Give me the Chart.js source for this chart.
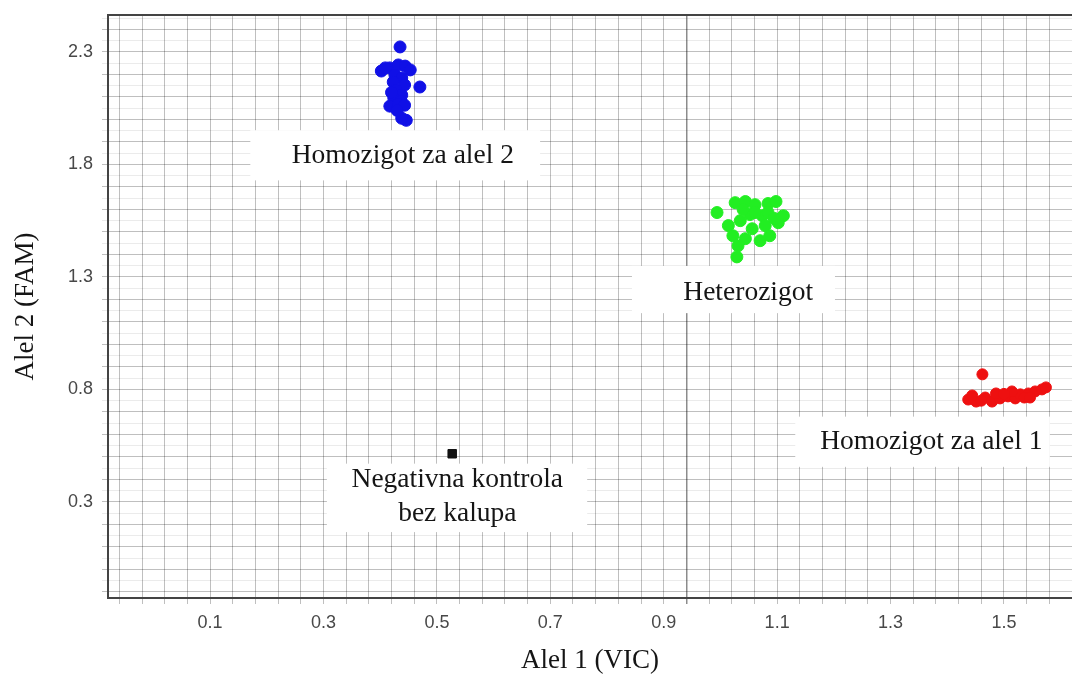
<!DOCTYPE html>
<html>
<head>
<meta charset="utf-8">
<script src="https://cdn.jsdelivr.net/npm/chart.js@4.4.1/dist/chart.umd.min.js"></script>
<style>
  html, body { margin: 0; padding: 0; background: #fff; }
  #wrap { width: 1072px; height: 679px; }
</style>
</head>
<body>
<div id="wrap"><canvas id="c" width="1072" height="679"></canvas></div>
<script>
// ---- data ----
const xTickLabels = [0.1, 0.3, 0.5, 0.7, 0.9, 1.1, 1.3, 1.5];
const yTickLabels = [0.3, 0.8, 1.3, 1.8, 2.3];

const homozygote2X = [0.435,0.402,0.417,0.432,0.444,0.453,0.426,0.438,0.423,0.443,0.470,0.428,0.438,0.424,0.437,0.417,0.432,0.443,0.446,0.438,0.409,0.420,0.430];
const homozygote2Y = [2.322,2.215,2.229,2.242,2.237,2.220,2.197,2.184,2.166,2.153,2.144,2.130,2.108,2.095,2.081,2.059,2.068,2.063,1.996,2.005,2.229,2.120,2.040];

const heterozygoteX = [0.994,1.029,1.026,1.044,1.061,1.084,1.098,1.111,1.052,1.074,1.035,1.014,1.056,1.079,1.102,1.022,1.044,1.070,1.087,1.031,1.061,1.084,1.040,1.095];
const heterozygoteY = [1.586,1.389,1.630,1.635,1.621,1.626,1.635,1.572,1.577,1.572,1.550,1.528,1.514,1.528,1.541,1.483,1.470,1.461,1.483,1.438,1.586,1.586,1.600,1.560];

const homozygote1X = [1.462,1.437,1.451,1.467,1.479,1.493,1.507,1.520,1.529,1.543,1.555,1.567,1.574,1.514,1.536,1.444,1.486,1.546,1.500,1.460];
const homozygote1Y = [0.867,0.755,0.746,0.764,0.746,0.760,0.769,0.760,0.778,0.782,0.791,0.800,0.809,0.791,0.764,0.773,0.782,0.764,0.780,0.750];

const controlX = [0.527];
const controlY = [0.514];

const clusterLabels = [
  { lines: ["Homozigot za alel 2"], x: 0.440, y: 1.840, box: [0.171, 1.952, 0.682, 1.729] },
  { lines: ["Heterozigot"], x: 1.049, y: 1.229, box: [0.844, 1.349, 1.202, 1.139] },
  { lines: ["Homozigot za alel 1"], x: 1.372, y: 0.568, box: [1.132, 0.679, 1.581, 0.456] },
  { lines: ["Negativna kontrola", "bez kalupa"], x: 0.536, y: 0.322, box: [0.306, 0.470, 0.765, 0.166] }
];

function pts(xs, ys) { return xs.map((x, i) => ({ x: x, y: ys[i] })); }

// grid values
const xGrid = [];
for (let k = -4; k <= 38; k++) xGrid.push(Math.round((0.1 + 0.04 * k) * 1000) / 1000);
const yGrid = [];
for (let k = -8; k <= 43; k++) yGrid.push(Math.round((0.3 + 0.05 * k) * 1000) / 1000);

function isLabel(list, v) { return list.some(t => Math.abs(t - v) < 1e-6); }

const labelPlugin = {
  id: 'clusterLabels',
  afterDatasetsDraw(chart) {
    const ctx = chart.ctx, xs = chart.scales.x, ys = chart.scales.y, a = chart.chartArea;
    ctx.save();
    ctx.strokeStyle = '#444';
    ctx.lineWidth = 2;
    ctx.beginPath();
    ctx.moveTo(a.left, a.top);
    ctx.lineTo(a.right, a.top);
    ctx.stroke();
    clusterLabels.forEach(l => {
      const x1 = xs.getPixelForValue(l.box[0]), y1 = ys.getPixelForValue(l.box[1]);
      const x2 = xs.getPixelForValue(l.box[2]), y2 = ys.getPixelForValue(l.box[3]);
      ctx.fillStyle = '#ffffff';
      ctx.fillRect(x1, y1, x2 - x1, y2 - y1);
      ctx.fillStyle = '#151515';
      ctx.font = '27.5px "Liberation Serif", "Times New Roman", serif';
      ctx.textAlign = 'center';
      ctx.textBaseline = 'middle';
      const cx = xs.getPixelForValue(l.x), cy = ys.getPixelForValue(l.y);
      const lh = 34;
      const n = l.lines.length;
      l.lines.forEach((t, i) => {
        ctx.fillText(t, cx, cy + (i - (n - 1) / 2) * lh);
      });
    });
    ctx.restore();
  }
};

new Chart(document.getElementById('c'), {
  type: 'scatter',
  data: {
    datasets: [
      { label: 'Homozigot za alel 2', data: pts(homozygote2X, homozygote2Y), backgroundColor: '#1010e6', borderColor: '#1010e6', pointRadius: 6, pointHoverRadius: 6 },
      { label: 'Heterozigot', data: pts(heterozygoteX, heterozygoteY), backgroundColor: '#22ee22', borderColor: '#22ee22', pointRadius: 6, pointHoverRadius: 6 },
      { label: 'Homozigot za alel 1', data: pts(homozygote1X, homozygote1Y), backgroundColor: '#ee1010', borderColor: '#ee1010', pointRadius: 5.5, pointHoverRadius: 5.5 },
      { label: 'Negativna kontrola bez kalupa', data: pts(controlX, controlY), backgroundColor: '#111', borderColor: '#111', pointStyle: 'rect', pointRadius: 6, pointHoverRadius: 6 }
    ]
  },
  options: {
    responsive: false,
    animation: false,
    layout: { autoPadding: false, padding: { left: 0, right: 0, top: 15, bottom: 0 } },
    plugins: { legend: { display: false }, tooltip: { enabled: false } },
    scales: {
      x: {
        type: 'linear', min: -0.08, max: 1.62,
        afterBuildTicks(s) { s.ticks = xGrid.map(v => ({ value: v })); },
        afterFit(s) { s.height = 81; s.paddingRight = 0; s.paddingLeft = 0; },
        ticks: {
          autoSkip: false, maxRotation: 0, padding: 8,
          color: '#484848',
          font: { family: '"Liberation Sans", Arial, sans-serif', size: 18 },
          callback: v => isLabel(xTickLabels, v) ? v.toFixed(1) : ''
        },
        grid: {
          color: c => Math.abs(c.tick.value - 0.94) < 1e-6 ? 'rgba(0,0,0,0.45)' : 'rgba(0,0,0,0.25)',
          lineWidth: c => Math.abs(c.tick.value - 0.94) < 1e-6 ? 1.5 : 1,
          tickLength: 6, drawTicks: true
        },
        border: { display: true, color: '#444', width: 2 },
        title: {
          display: true, text: 'Alel 1 (VIC)', color: '#151515',
          font: { family: '"Liberation Serif", "Times New Roman", serif', size: 27 },
          padding: { top: 0, bottom: 2 }
        }
      },
      y: {
        type: 'linear', min: -0.127, max: 2.464,
        afterBuildTicks(s) { s.ticks = yGrid.map(v => ({ value: v })); },
        afterFit(s) { s.width = 108; s.paddingTop = 0; s.paddingBottom = 0; },
        ticks: {
          autoSkip: false, padding: 9,
          color: '#484848',
          font: { family: '"Liberation Sans", Arial, sans-serif', size: 18 },
          callback: v => isLabel(yTickLabels, v) ? v.toFixed(1) : ''
        },
        grid: {
          color: c => (Math.round(c.tick.value * 100) % 10 === 0) ? 'rgba(0,0,0,0.25)' : 'rgba(0,0,0,0.08)',
          tickLength: 6, drawTicks: true
        },
        border: { display: true, color: '#444', width: 2 },
        title: {
          display: true, text: 'Alel 2 (FAM)', color: '#151515',
          font: { family: '"Liberation Serif", "Times New Roman", serif', size: 27 },
          padding: { top: 10, bottom: 0 }
        }
      }
    }
  },
  plugins: [labelPlugin]
});
</script>
</body>
</html>
